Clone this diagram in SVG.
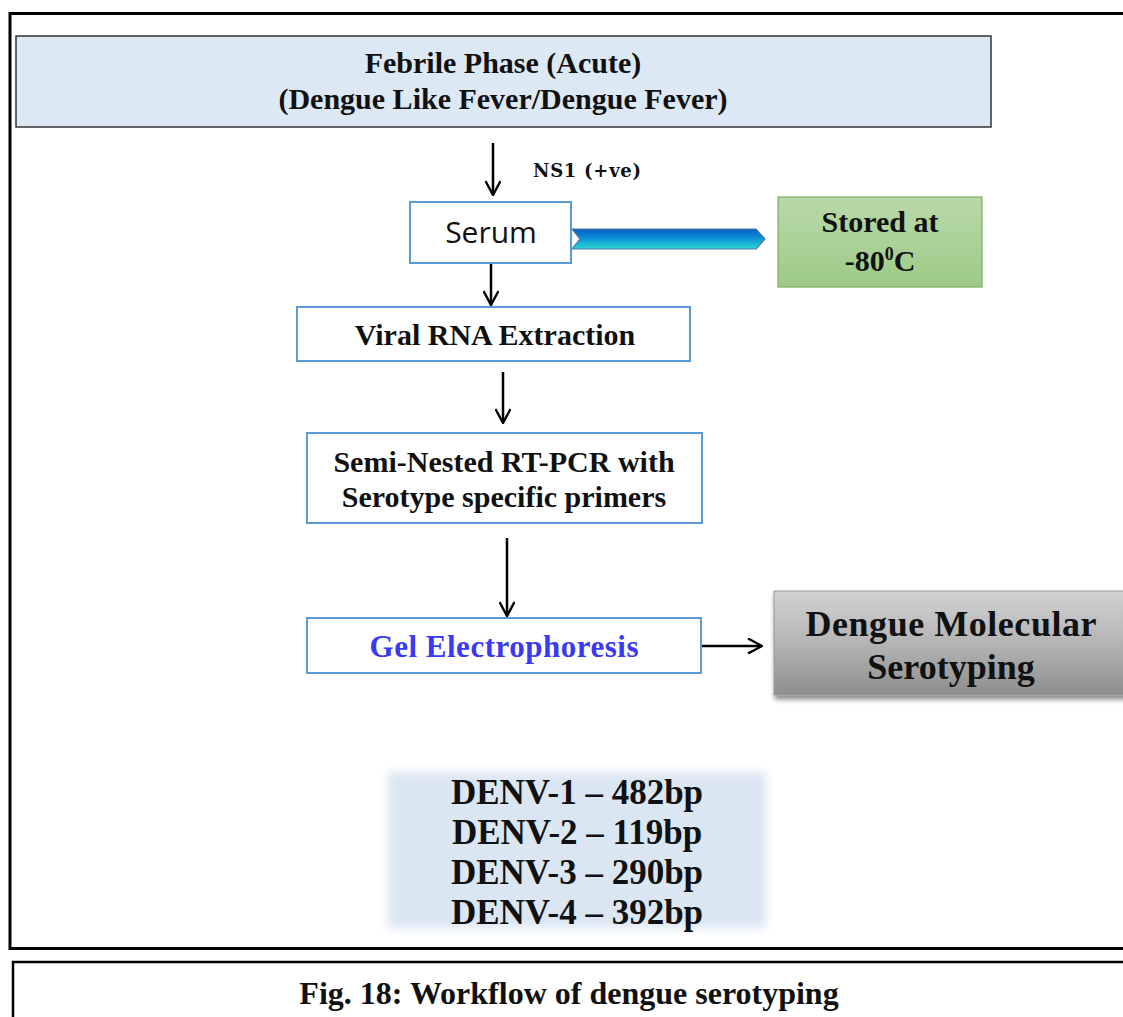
<svg xmlns="http://www.w3.org/2000/svg" width="1123" height="1017" viewBox="0 0 1123 1017">
  <defs>
    <style>
      .frame { fill: none; stroke: #000; }
      .step { fill: #fff; stroke: #5b9bd5; stroke-width: 2; }
      .lbl { font-family: "Liberation Serif", "Times New Roman", serif; font-weight: bold; fill: #111; text-anchor: middle; }
      .conn { stroke: #000; stroke-width: 2.5; fill: none; }
    </style>
    <marker id="vhead2" viewBox="0 0 16 16" refX="15" refY="8" markerWidth="16" markerHeight="16" markerUnits="userSpaceOnUse" orient="auto">
      <path d="M1,0.5 L15,8 L1,15.5" fill="none" stroke="#000" stroke-width="2.4"/>
    </marker>
    <linearGradient id="blueBar" x1="0" y1="0" x2="0" y2="1">
      <stop offset="0" stop-color="#0a5cc0"/>
      <stop offset="0.45" stop-color="#0a90d8"/>
      <stop offset="1" stop-color="#2ad8d0"/>
    </linearGradient>
    <linearGradient id="greenFill" x1="0" y1="0" x2="0" y2="1">
      <stop offset="0" stop-color="#b9d9a9"/>
      <stop offset="1" stop-color="#9dca86"/>
    </linearGradient>
    <linearGradient id="greyFill" x1="0" y1="0" x2="0" y2="1">
      <stop offset="0" stop-color="#d2d2d2"/>
      <stop offset="0.5" stop-color="#b4b4b4"/>
      <stop offset="1" stop-color="#8e8e8e"/>
    </linearGradient>
    <filter id="drop" x="-10%" y="-10%" width="130%" height="140%">
      <feGaussianBlur in="SourceAlpha" stdDeviation="2.5"/>
      <feOffset dx="1" dy="4" result="b"/>
      <feComponentTransfer><feFuncA type="linear" slope="0.45"/></feComponentTransfer>
      <feMerge><feMergeNode/><feMergeNode in="SourceGraphic"/></feMerge>
    </filter>
    <filter id="soft" x="-10%" y="-20%" width="120%" height="140%">
      <feGaussianBlur stdDeviation="5"/>
    </filter>
  </defs>

  <rect width="1123" height="1017" fill="#fff"/>

  <!-- page frames -->
  <rect class="frame" x="10" y="13.5" width="1130" height="935" stroke-width="3"/>
  <rect class="frame" x="13" y="962" width="1130" height="80" stroke-width="2.5"/>

  <!-- connectors -->
  <g id="connectors">
    <line class="conn" x1="493" y1="143" x2="493" y2="195" marker-end="url(#vhead2)"/>
    <line class="conn" x1="491" y1="264" x2="491" y2="305" marker-end="url(#vhead2)"/>
    <line class="conn" x1="503" y1="372" x2="503" y2="423" marker-end="url(#vhead2)"/>
    <line class="conn" x1="507" y1="538" x2="507" y2="616" marker-end="url(#vhead2)"/>
    <line class="conn" x1="701" y1="646" x2="762" y2="646" marker-end="url(#vhead2)"/>
    <!-- storage chevron -->
    <path d="M572,229 L756,229 L765,239 L756,249 L572,249 L580,239 Z" fill="url(#blueBar)" stroke="#4a78a8" stroke-width="1.2"/>
    <text x="533" y="177" font-family="'DejaVu Serif', 'Liberation Serif', serif" font-weight="bold" font-size="18" fill="#111" textLength="108">NS1 (+ve)</text>
  </g>

  <g id="febrile">
    <rect x="16" y="36" width="975" height="91" fill="#dde8f5" stroke="#333" stroke-width="1.5"/>
    <text class="lbl" x="503" y="73" font-size="30">Febrile Phase (Acute)</text>
    <text class="lbl" x="503" y="109" font-size="30">(Dengue Like Fever/Dengue Fever)</text>
  </g>

  <g id="serum">
    <rect class="step" x="410" y="202" width="161" height="61"/>
    <text x="491" y="243" font-family="'Open Sans', 'Noto Sans', sans-serif" font-size="30" fill="#111" text-anchor="middle">Serum</text>
  </g>

  <g id="storage">
    <rect x="778" y="197" width="204" height="90" fill="url(#greenFill)" stroke="#7fae65" stroke-width="1.2"/>
    <text class="lbl" x="880" y="232" font-size="30">Stored at</text>
    <text class="lbl" x="880" y="271" font-size="30">-80<tspan font-size="18" dy="-11">0</tspan><tspan dy="11">C</tspan></text>
  </g>

  <g id="extraction">
    <rect class="step" x="297" y="307" width="393" height="54"/>
    <text class="lbl" x="495" y="345" font-size="30">Viral RNA Extraction</text>
  </g>

  <g id="rtpcr">
    <rect class="step" x="307" y="433" width="395" height="90"/>
    <text class="lbl" x="504" y="472" font-size="30">Semi-Nested RT-PCR with</text>
    <text class="lbl" x="504" y="507" font-size="30">Serotype specific primers</text>
  </g>

  <g id="gel">
    <rect class="step" x="307" y="618" width="394" height="55"/>
    <text class="lbl" x="504" y="657" font-size="31" textLength="269" style="fill:#3a3af5">Gel Electrophoresis</text>
  </g>

  <g id="serotyping">
    <rect x="774" y="591" width="360" height="104" fill="url(#greyFill)" stroke="#9a9a9a" stroke-width="1" filter="url(#drop)"/>
    <text class="lbl" x="951" y="636" font-size="36" textLength="291">Dengue Molecular</text>
    <text class="lbl" x="951" y="679" font-size="36">Serotyping</text>
  </g>

  <g id="bands">
    <rect x="388" y="772" width="378" height="156" fill="#dbe6f3" filter="url(#soft)"/>
    <text class="lbl" x="577" y="804" font-size="35">DENV-1 – 482bp</text>
    <text class="lbl" x="577" y="844" font-size="35">DENV-2 – 119bp</text>
    <text class="lbl" x="577" y="884" font-size="35">DENV-3 – 290bp</text>
    <text class="lbl" x="577" y="924" font-size="35">DENV-4 – 392bp</text>
  </g>

  <text class="lbl" x="569" y="1004" font-size="32">Fig. 18: Workflow of dengue serotyping</text>
</svg>
